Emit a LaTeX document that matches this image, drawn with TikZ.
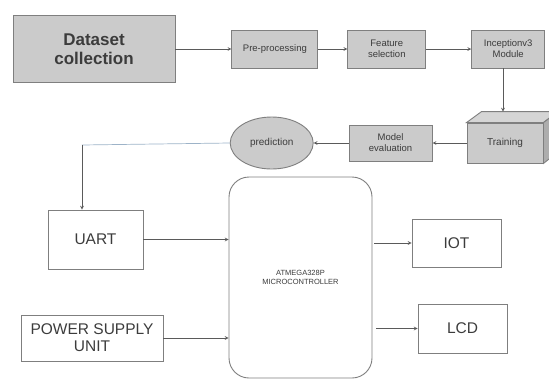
\documentclass[tikz,border=0pt]{standalone}
\usepackage{fontspec}
\setmainfont{Liberation Sans}
\usetikzlibrary{arrows,positioning,shapes.geometric}

\definecolor{boxgray}{HTML}{CBCBCB}
\definecolor{edgegray}{HTML}{7F7F7F}
\definecolor{linegray}{HTML}{5A5A5A}
\definecolor{textgray}{HTML}{3C3C3C}
\definecolor{lineblue}{HTML}{9DB3C8}

\tikzset{
	graybox/.style={draw=edgegray, fill=boxgray, line width=0.9pt, inner sep=0pt, align=center, text=textgray},
	smallbox/.style={graybox, minimum height=38pt, font=\fontsize{9.5}{11}\selectfont},
	whitebox/.style={draw=edgegray, fill=white, line width=0.9pt, inner sep=0pt, align=center, text=textgray, font=\fontsize{15.5}{17}\selectfont},
	link/.style={draw=linegray, line width=0.7pt, -stealth}
}

\begin{document}
\begin{tikzpicture}[x=1pt, y=1pt]
	\useasboundingbox (0,0) rectangle (549,-381);
	\node[graybox, minimum width=162pt, minimum height=67pt, font=\fontsize{17}{19}\selectfont\bfseries] (data) at (94,-49) {Dataset\\collection};
	\node[smallbox, minimum width=86pt] (pre) [right = 56pt of data] {Pre-processing};
	\node[smallbox, minimum width=78pt] (feat) [right = 29pt of pre] {Feature\\selection};
	\node[smallbox, minimum width=73pt] (incep) [right = 45pt of feat] {Inceptionv3\\Module};
	\node[graybox, minimum width=76pt, minimum height=40pt, font=\fontsize{10}{12}\selectfont] (train) at (505,-143) {Training};
	\node[smallbox, minimum width=83pt, minimum height=36pt] (model) [left = 34pt of train] {Model\\evaluation};
	\node[graybox, ellipse, minimum width=83pt, minimum height=52pt, font=\fontsize{10}{12}\selectfont] (pred) [left = 35pt of model] {prediction};
	\node[whitebox, minimum width=95pt, minimum height=59pt] (uart) at (95.5,-239.5) {UART};
	\node[whitebox, minimum width=142pt, minimum height=46pt] (psu) at (92,-338) {POWER SUPPLY\\UNIT};
	\node[whitebox, rounded corners=20pt, minimum width=143pt, minimum height=201pt, font=\fontsize{7.5}{9}\selectfont] (micro) at (300.5,-277.5) {ATMEGA328P\\MICROCONTROLLER};
	\node[whitebox, minimum width=89pt, minimum height=48pt] (iot) at (456.5,-243) {IOT};
	\node[whitebox, minimum width=89pt, minimum height=49pt] (lcd) at (462.5,-328.5) {LCD};
	% 3d faces of the training block
	\draw[draw=edgegray, fill=boxgray!80!white, line width=0.9pt] (train.north west) -- ++(15,11) -- ++(76,0) -- (train.north east) -- cycle;
	\draw[draw=edgegray, fill=boxgray!85!black, line width=0.9pt] (train.north east) -- ++(15,11) -- ++(0,-40) -- (train.south east) -- cycle;
	\coordinate (traintop) at ([xshift=-2pt,yshift=11pt]train.north);
	\coordinate (bend) at (82,-145);
	\path[link] (data) -- (pre);
	\path[link] (pre) -- (feat);
	\path[link] (feat) -- (incep);
	\draw[link] (incep.south -| traintop) -- (traintop);
	\path[link] (train) -- (model);
	\path[link] (model) -- (pred);
	\draw[lineblue, line width=0.7pt] (pred.west) -- (bend);
	\draw[link] (bend) -- (bend |- uart.north);
	\draw[link] (uart.east) -- (uart.east -| micro.west);
	\draw[link] (psu.east) -- (psu.east -| micro.west);
	\draw[link] ([xshift=2pt]micro.east |- iot.west) -- (iot.west);
	\draw[link] ([xshift=4pt]micro.east |- lcd.west) -- (lcd.west);
\end{tikzpicture}
\end{document}
